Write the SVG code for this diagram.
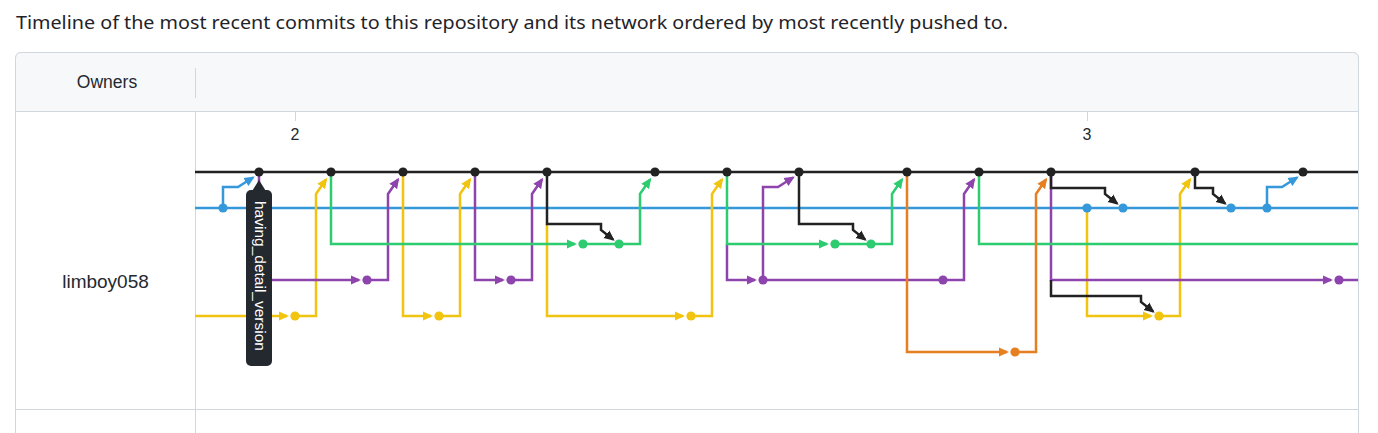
<svg xmlns="http://www.w3.org/2000/svg" width="1378" height="433" viewBox="0 0 1378 433">
<style>
.t{font-family:"Liberation Sans",Arial,sans-serif;fill:#24292f}
.ttl{font-family:"Noto Sans","Liberation Sans",sans-serif;fill:#1f2328;font-size:18px}
.bd{stroke:#d0d7de;stroke-width:1;fill:none}
.ln{fill:none;stroke-width:2.5}
.k{stroke:#222}.b{stroke:#3498db}.g{stroke:#2ecc71}.p{stroke:#8e44ad}.y{stroke:#f1c40f}.o{stroke:#e67e22}
.k.a{marker-end:url(#mk)}.b.a{marker-end:url(#mb)}.g.a{marker-end:url(#mg)}.p.a{marker-end:url(#mp)}.y.a{marker-end:url(#my)}.o.a{marker-end:url(#mo)}
.dk{fill:#222}.db{fill:#3498db}.dg{fill:#2ecc71}.dp{fill:#8e44ad}.dy{fill:#f1c40f}.do{fill:#e67e22}
</style>
<defs>
<marker id="mk" viewBox="0 0 10 10" refX="8" refY="5" markerWidth="10.5" markerHeight="10.5" markerUnits="userSpaceOnUse" orient="auto"><path d="M0,0.5 L10,5 L0,9.5 z" fill="#222"/></marker>
<marker id="mb" viewBox="0 0 10 10" refX="8" refY="5" markerWidth="10.5" markerHeight="10.5" markerUnits="userSpaceOnUse" orient="auto"><path d="M0,0.5 L10,5 L0,9.5 z" fill="#3498db"/></marker>
<marker id="mg" viewBox="0 0 10 10" refX="8" refY="5" markerWidth="10.5" markerHeight="10.5" markerUnits="userSpaceOnUse" orient="auto"><path d="M0,0.5 L10,5 L0,9.5 z" fill="#2ecc71"/></marker>
<marker id="mp" viewBox="0 0 10 10" refX="8" refY="5" markerWidth="10.5" markerHeight="10.5" markerUnits="userSpaceOnUse" orient="auto"><path d="M0,0.5 L10,5 L0,9.5 z" fill="#8e44ad"/></marker>
<marker id="my" viewBox="0 0 10 10" refX="8" refY="5" markerWidth="10.5" markerHeight="10.5" markerUnits="userSpaceOnUse" orient="auto"><path d="M0,0.5 L10,5 L0,9.5 z" fill="#f1c40f"/></marker>
<marker id="mo" viewBox="0 0 10 10" refX="8" refY="5" markerWidth="10.5" markerHeight="10.5" markerUnits="userSpaceOnUse" orient="auto"><path d="M0,0.5 L10,5 L0,9.5 z" fill="#e67e22"/></marker>
</defs>
<rect width="1378" height="433" fill="#fff"/>
<text class="ttl" x="16" y="29" textLength="992" lengthAdjust="spacingAndGlyphs">Timeline of the most recent commits to this repository and its network ordered by most recently pushed to.</text>
<g id="table">
<rect x="15.5" y="52.5" width="1343" height="420" rx="6" class="bd" style="fill:#fff"/>
<path d="M15.5,111.5 V58.5 Q15.5,52.5 21.5,52.5 H1352.5 Q1358.5,52.5 1358.5,58.5 V111.5 Z" fill="#f6f8fa" stroke="#d0d7de"/>
<line class="bd" x1="195.5" y1="68" x2="195.5" y2="98"/>
<line class="bd" x1="195.5" y1="111" x2="195.5" y2="433"/>
<line class="bd" x1="15" y1="409.5" x2="1358" y2="409.5"/>
<text class="t" x="107" y="88" font-size="17.5" text-anchor="middle">Owners</text>
<text class="t" x="105.5" y="288" font-size="19" text-anchor="middle">limboy058</text>
<line class="bd" x1="295.5" y1="112" x2="295.5" y2="121"/>
<text class="t" x="295" y="140" font-size="16" text-anchor="middle">2</text>
<line class="bd" x1="1087.5" y1="112" x2="1087.5" y2="121"/>
<text class="t" x="1087" y="140" font-size="16" text-anchor="middle">3</text>
</g>
<g id="connectors">
<path class="ln b" d="M195,208 H1358"/>
<path class="ln b a" d="M223,208 V187 H238 L253,177.5"/>
<path class="ln b a" d="M1267,208 V187 H1282 L1297,177.5"/>
<path class="ln y a" d="M195,316 H287"/>
<path class="ln y a" d="M295,316 H316 V194 L326,179.5"/>
<path class="ln y a" d="M403,172 V316 H431"/>
<path class="ln y a" d="M439,316 H460 V194 L470,179.5"/>
<path class="ln y a" d="M547,224 V316 H683"/>
<path class="ln y a" d="M691,316 H712 V194 L722,179.5"/>
<path class="ln y a" d="M1087,208 V316 H1151"/>
<path class="ln y a" d="M1159,316 H1180 V194 L1190,179.5"/>
<path class="ln p a" d="M259,172 V280 H359"/>
<path class="ln p a" d="M367,280 H388 V194 L398,179.5"/>
<path class="ln p a" d="M475,172 V280 H503"/>
<path class="ln p a" d="M511,280 H532 V194 L542,179.5"/>
<path class="ln p a" d="M727,244 V280 H755"/>
<path class="ln p" d="M763,280 H943"/>
<path class="ln p a" d="M763,280 V187 H778 L793,177.5"/>
<path class="ln p a" d="M943,280 H964 V194 L974,179.5"/>
<path class="ln p a" d="M1051,172 V280 H1331"/>
<path class="ln p" d="M1339,280 H1358"/>
<path class="ln g a" d="M331,172 V244 H575"/>
<path class="ln g" d="M583,244 H619"/>
<path class="ln g a" d="M619,244 H640 V194 L650,179.5"/>
<path class="ln g a" d="M727,172 V244 H827"/>
<path class="ln g" d="M835,244 H871"/>
<path class="ln g a" d="M871,244 H892 V194 L902,179.5"/>
<path class="ln g" d="M979,172 V244 H1358"/>
<path class="ln o a" d="M907,172 V352 H1007"/>
<path class="ln o a" d="M1015,352 H1036 V194 L1046,179.5"/>
<path class="ln k a" d="M547,172 V224 H601 V230 L613,239.5"/>
<path class="ln k a" d="M799,172 V224 H853 V230 L865,239.5"/>
<path class="ln k a" d="M1051,172 V188 H1105 V194 L1117,203.5"/>
<path class="ln k a" d="M1051,280 V296 H1141 V302 L1153,311.5"/>
<path class="ln k a" d="M1195,172 V188 H1213 V194 L1225,203.5"/>
<path class="ln k" d="M195,172 H1358"/>
</g>
<g id="commit-k-259"><circle class="dk" cx="259" cy="172" r="4.6"/></g>
<g id="commit-k-331"><circle class="dk" cx="331" cy="172" r="4.6"/></g>
<g id="commit-k-403"><circle class="dk" cx="403" cy="172" r="4.6"/></g>
<g id="commit-k-475"><circle class="dk" cx="475" cy="172" r="4.6"/></g>
<g id="commit-k-547"><circle class="dk" cx="547" cy="172" r="4.6"/></g>
<g id="commit-k-655"><circle class="dk" cx="655" cy="172" r="4.6"/></g>
<g id="commit-k-727"><circle class="dk" cx="727" cy="172" r="4.6"/></g>
<g id="commit-k-799"><circle class="dk" cx="799" cy="172" r="4.6"/></g>
<g id="commit-k-907"><circle class="dk" cx="907" cy="172" r="4.6"/></g>
<g id="commit-k-979"><circle class="dk" cx="979" cy="172" r="4.6"/></g>
<g id="commit-k-1051"><circle class="dk" cx="1051" cy="172" r="4.6"/></g>
<g id="commit-k-1195"><circle class="dk" cx="1195" cy="172" r="4.6"/></g>
<g id="commit-k-1303"><circle class="dk" cx="1303" cy="172" r="4.6"/></g>
<g id="commit-b-223"><circle class="db" cx="223" cy="208" r="4.6"/></g>
<g id="commit-b-1087"><circle class="db" cx="1087" cy="208" r="4.6"/></g>
<g id="commit-b-1123"><circle class="db" cx="1123" cy="208" r="4.6"/></g>
<g id="commit-b-1231"><circle class="db" cx="1231" cy="208" r="4.6"/></g>
<g id="commit-b-1267"><circle class="db" cx="1267" cy="208" r="4.6"/></g>
<g id="commit-g-583"><circle class="dg" cx="583" cy="244" r="4.6"/></g>
<g id="commit-g-619"><circle class="dg" cx="619" cy="244" r="4.6"/></g>
<g id="commit-g-835"><circle class="dg" cx="835" cy="244" r="4.6"/></g>
<g id="commit-g-871"><circle class="dg" cx="871" cy="244" r="4.6"/></g>
<g id="commit-p-367"><circle class="dp" cx="367" cy="280" r="4.6"/></g>
<g id="commit-p-511"><circle class="dp" cx="511" cy="280" r="4.6"/></g>
<g id="commit-p-763"><circle class="dp" cx="763" cy="280" r="4.6"/></g>
<g id="commit-p-943"><circle class="dp" cx="943" cy="280" r="4.6"/></g>
<g id="commit-p-1339"><circle class="dp" cx="1339" cy="280" r="4.6"/></g>
<g id="commit-y-295"><circle class="dy" cx="295" cy="316" r="4.6"/></g>
<g id="commit-y-439"><circle class="dy" cx="439" cy="316" r="4.6"/></g>
<g id="commit-y-691"><circle class="dy" cx="691" cy="316" r="4.6"/></g>
<g id="commit-y-1159"><circle class="dy" cx="1159" cy="316" r="4.6"/></g>
<g id="commit-o-1015"><circle class="do" cx="1015" cy="352" r="4.6"/></g>
<g id="label-having_detail_version">
<path d="M251.5,192 L259,180 L266.5,192 Z" fill="#24292f"/>
<rect x="246" y="190" width="26" height="176" rx="5" fill="#24292f"/>
<text transform="translate(254.5,201) rotate(90)" font-family="Liberation Sans, Arial, sans-serif" font-size="15.5" fill="#fff">having_detail_version</text>
</g>
</svg>
